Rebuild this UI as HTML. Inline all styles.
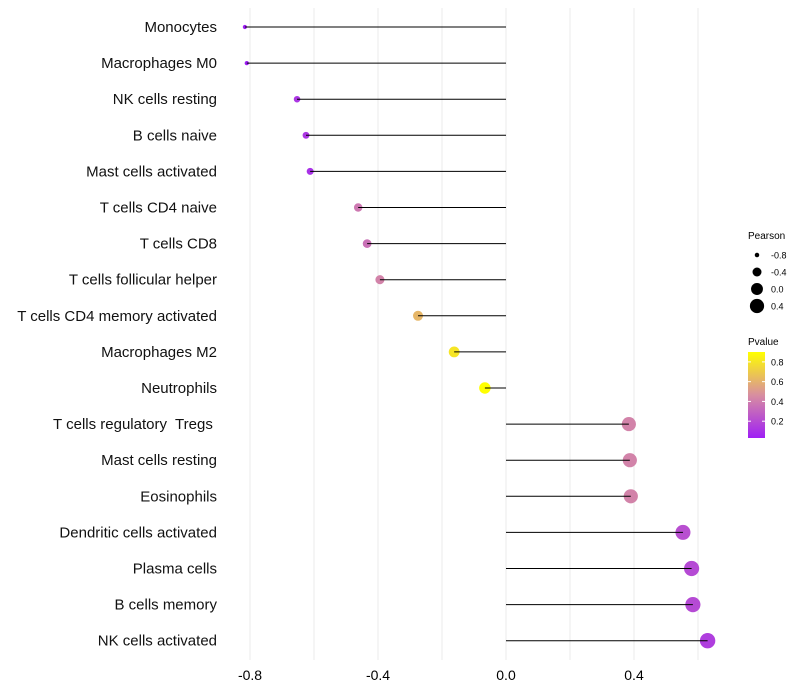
<!DOCTYPE html>
<html><head><meta charset="utf-8"><style>
body{margin:0;background:#fff;font-family:"Liberation Sans",sans-serif}
svg{display:block}
text{white-space:pre}
</style></head><body>
<svg id="chart" width="800" height="700"></svg>
<script>
const categories=["Monocytes","Macrophages M0","NK cells resting","B cells naive","Mast cells activated","T cells CD4 naive","T cells CD8","T cells follicular helper","T cells CD4 memory activated","Macrophages M2","Neutrophils","T cells regulatory  Tregs ","Mast cells resting","Eosinophils","Dendritic cells activated","Plasma cells","B cells memory","NK cells activated"];
const pearson=[-0.816,-0.81,-0.653,-0.625,-0.612,-0.462,-0.434,-0.394,-0.275,-0.162,-0.066,0.384,0.387,0.39,0.553,0.58,0.584,0.63];
const pvalues=[0.03,0.03,0.12,0.12,0.1,0.38,0.35,0.42,0.62,0.8,0.9,0.42,0.42,0.42,0.22,0.2,0.2,0.15];
const xTicks=[-0.8,-0.4,0.0,0.4];
const gridTicks=[-0.8,-0.6,-0.4,-0.2,0,0.2,0.4,0.6];
const sizeLegend=[-0.8,-0.4,0.0,0.4];
const colorLegend=[0.2,0.4,0.6,0.8];
const NS="http://www.w3.org/2000/svg";
const svg=document.getElementById('chart');
function mk(t,a,p){const e=document.createElementNS(NS,t);for(const k in a)e.setAttribute(k,a[k]);(p||svg).appendChild(e);return e;}
const x=v=>506+v*320;
const y=i=>27+i*36.1;
const r=v=>Math.sqrt(Math.max(2,5+38*(v+0.8)));
const pmin=0.03,pmax=0.9;
function col(p){let t=(p-pmin)/(pmax-pmin);t=Math.max(0,Math.min(1,t));
 const a=[159,31,245],m=[216,142,160],b=[255,255,0];let c;
 if(t<0.5){const s=t/0.5;c=a.map((v,k)=>Math.round(v+(m[k]-v)*s));}else{const s=(t-0.5)/0.5;c=m.map((v,k)=>Math.round(v+(b[k]-v)*s));}
 return `rgb(${c})`;}
gridTicks.forEach(v=>{const g=mk('line',{x1:x(v),x2:x(v),y1:8,y2:660,stroke:'#ebebeb','stroke-width':1});
});
xTicks.forEach(v=>{const t=mk('text',{x:x(v),y:680,'text-anchor':'middle','font-size':14,fill:'#000'});t.textContent=v.toFixed(1);
});
categories.forEach((c,i)=>{
 const t=mk('text',{x:217,y:y(i)+5,'text-anchor':'end','font-size':15,fill:'#111'});t.textContent=c;
 
 const pt=mk('circle',{cx:x(pearson[i]),cy:y(i),r:r(pearson[i]),fill:col(pvalues[i])});
 
 const s=mk('line',{x1:x(0),x2:x(pearson[i]),y1:y(i),y2:y(i),stroke:'#000','stroke-width':1});
 
});
let lt=mk('text',{x:748,y:239,'font-size':10,fill:'#000'});lt.textContent='Pearson';

sizeLegend.forEach((v,k)=>{const cy=255+k*17;
 const c=mk('circle',{cx:757,cy:cy,r:r(v),fill:'#000'});
 const t=mk('text',{x:771,y:cy+3.5,'font-size':9,fill:'#000'});t.textContent=v.toFixed(1);
 });
let ct=mk('text',{x:748,y:345,'font-size':10,fill:'#000'});ct.textContent='Pvalue';

const defs=mk('defs',{});const lg=mk('linearGradient',{id:'pg',x1:0,y1:1,x2:0,y2:0},defs);
[0,0.5,1].forEach(o=>mk('stop',{offset:o,'stop-color':col(pmin+o*(pmax-pmin))},lg));
const py=p=>438-(p-pmin)/(pmax-pmin)*86;
const bar=mk('rect',{x:748,y:352,width:17,height:86,fill:'url(#pg)'});

colorLegend.forEach(v=>{mk('line',{x1:748,x2:751,y1:py(v),y2:py(v),stroke:'#fff'});mk('line',{x1:762,x2:765,y1:py(v),y2:py(v),stroke:'#fff'});
 const t=mk('text',{x:771,y:py(v)+3.5,'font-size':9,fill:'#000'});t.textContent=v.toFixed(1);
 });
</script>
</body></html>
